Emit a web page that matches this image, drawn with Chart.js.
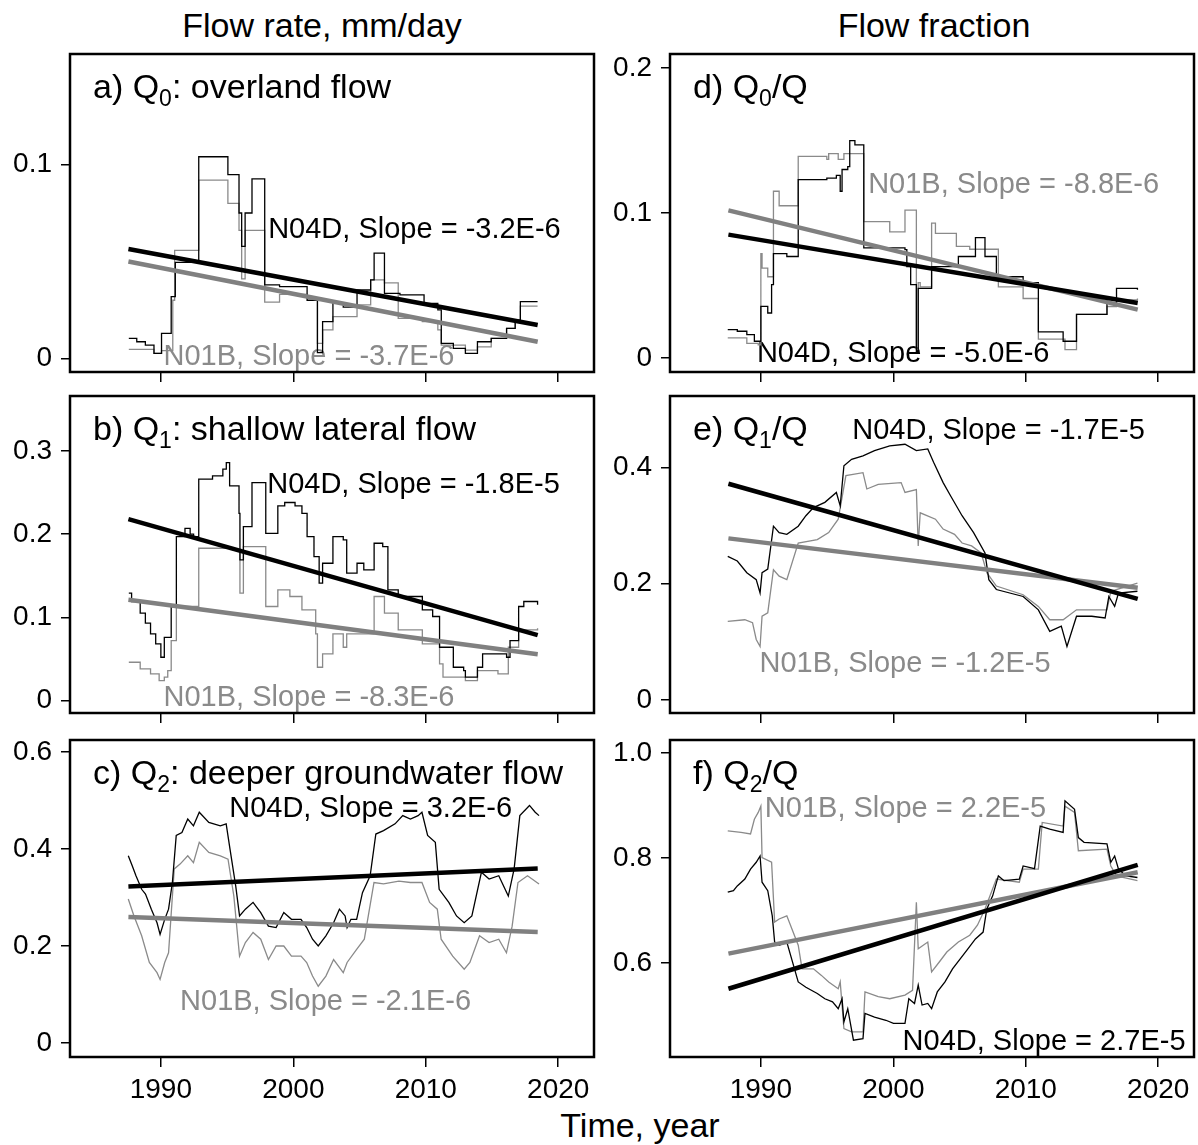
<!DOCTYPE html>
<html>
<head>
<meta charset="utf-8">
<script src="https://cdn.jsdelivr.net/npm/chart.js@4.4.1/dist/chart.umd.min.js"></script>
<style>
body { margin: 0; background: #fff; width: 1198px; height: 1145px; position: relative; overflow: hidden;
       font-family: 'Liberation Sans', Arial, sans-serif; }
canvas { position: absolute; }
.hdr { position: absolute; width: 600px; font-size: 34px; line-height: 0; text-align: center; white-space: nowrap; color: #000; }
</style>
</head>
<body>
<div class="hdr" style="left:22px; top:25px">Flow rate, mm/day</div>
<div class="hdr" style="left:634px; top:25px">Flow fraction</div>
<div class="hdr" style="left:340px; top:1125px">Time, year</div>
<script>
// ---- data: [year, value] ----
// Q0 overland flow, mm/day
const q0N04D = [[1987.58,0.0103],[1988.18,0.0086],[1988.83,0.0069],[1989.48,0.0026],[1990.05,0.0129],[1990.78,0.0319],
  [1991.09,0.0495],[1992.86,0.1040],[1995.06,0.0948],[1995.90,0.0750],[1996.10,0.0578],[1996.36,0.0750],[1996.88,0.0926],
  [1997.84,0.0379],[1998.96,0.0370],[2001.04,0.0300],[2001.82,0.0030],[2002.21,0.0190],[2002.99,0.0284],[2003.77,0.0265],
  [2004.81,0.0353],[2005.84,0.0405],[2006.10,0.0543],[2006.88,0.0336],[2008.05,0.0328],[2009.87,0.0284],[2010.91,0.0250],
  [2011.17,0.0078],[2012.08,0.0052],[2012.99,0.0026],[2013.90,0.0086],[2014.94,0.0103],[2016.10,0.0155],[2016.75,0.0198],
  [2017.14,0.0293],[2018.44,0.0293]];
const q0N01B = [[1987.58,0.0047],[1989.48,0.0026],[1990.05,0.0040],[1990.90,0.0300],[1991.04,0.0557],[1992.86,0.0920],
  [1995.06,0.0800],[1995.90,0.0660],[1996.10,0.0410],[1996.36,0.0660],[1997.84,0.0290],[1998.96,0.0330],[2001.04,0.0310],
  [2001.82,0.0078],[2002.21,0.0147],[2002.99,0.0216],[2004.81,0.0276],[2005.84,0.0405],[2006.88,0.0390],[2007.92,0.0207],
  [2009.74,0.0190],[2010.91,0.0147],[2011.17,0.0069],[2012.99,0.0043],[2013.90,0.0060],[2014.94,0.0103],[2016.10,0.0155],
  [2016.75,0.0190],[2017.14,0.0270],[2018.44,0.0270]];

// Q1 shallow lateral flow, mm/day
const q1N04D = [[1987.58,0.129],[1987.79,0.119],[1988.44,0.105],[1988.83,0.093],[1989.22,0.080],[1989.61,0.068],
  [1990.00,0.052],[1990.26,0.076],[1990.78,0.113],[1991.17,0.197],[1991.82,0.207],[1992.21,0.200],[1992.47,0.197],
  [1992.86,0.266],[1993.90,0.270],[1994.68,0.278],[1994.94,0.286],[1995.19,0.258],[1995.90,0.225],[1995.97,0.169],
  [1996.23,0.209],[1996.88,0.262],[1997.92,0.201],[1998.83,0.234],[1999.35,0.238],[2000.13,0.234],[2000.65,0.225],
  [2001.04,0.197],[2001.56,0.173],[2001.95,0.141],[2002.21,0.165],[2002.99,0.197],[2003.77,0.193],[2004.03,0.153],
  [2004.81,0.165],[2005.32,0.157],[2006.10,0.189],[2006.75,0.185],[2007.14,0.133],[2007.92,0.125],[2009.74,0.109],
  [2010.52,0.101],[2011.04,0.064],[2012.08,0.040],[2012.86,0.036],[2012.99,0.028],[2013.90,0.040],[2014.29,0.056],
  [2016.10,0.052],[2016.36,0.072],[2017.01,0.113],[2017.40,0.119],[2018.44,0.115]];
const q1N01B = [[1987.58,0.046],[1988.44,0.038],[1989.22,0.032],[1989.87,0.024],[1990.26,0.028],[1990.52,0.036],
  [1990.78,0.072],[1991.17,0.113],[1992.86,0.183],[1995.45,0.181],[1995.97,0.129],[1996.23,0.185],[1997.92,0.113],
  [1998.83,0.133],[1999.74,0.125],[2000.65,0.109],[2001.69,0.080],[2001.82,0.040],[2002.21,0.056],[2002.99,0.080],
  [2003.77,0.064],[2004.03,0.080],[2006.10,0.125],[2006.88,0.105],[2007.92,0.085],[2009.74,0.068],[2011.04,0.044],
  [2011.30,0.028],[2012.99,0.024],[2013.90,0.036],[2015.45,0.032],[2016.23,0.064],[2017.01,0.085],[2018.44,0.087]];

// Q2 deeper groundwater flow, mm/day
const q2N04D = [[1987.54,0.386],[1987.83,0.366],[1988.12,0.345],[1988.55,0.317],[1988.84,0.307],[1989.28,0.276],
  [1989.71,0.248],[1989.94,0.224],[1990.29,0.255],[1990.58,0.276],[1990.87,0.331],[1991.16,0.428],[1991.59,0.434],
  [1992.03,0.462],[1992.46,0.448],[1992.90,0.476],[1993.62,0.455],[1994.49,0.448],[1994.93,0.452],[1995.22,0.400],
  [1995.65,0.324],[1995.94,0.262],[1996.38,0.276],[1996.96,0.290],[1997.54,0.269],[1998.12,0.241],[1998.70,0.238],
  [1999.28,0.269],[1999.86,0.255],[2000.58,0.255],[2001.01,0.238],[2001.45,0.214],[2001.88,0.200],[2002.46,0.221],
  [2003.04,0.248],[2003.48,0.276],[2003.91,0.262],[2004.06,0.238],[2004.35,0.255],[2004.78,0.255],[2005.22,0.310],
  [2005.80,0.345],[2006.23,0.431],[2006.81,0.438],[2007.68,0.452],[2008.26,0.469],[2008.84,0.462],[2009.42,0.469],
  [2009.71,0.476],[2010.14,0.428],[2010.72,0.414],[2011.01,0.317],[2011.74,0.290],[2012.32,0.262],[2012.90,0.248],
  [2013.48,0.262],[2014.20,0.352],[2014.78,0.338],[2015.51,0.345],[2016.23,0.303],[2016.67,0.359],[2017.10,0.469],
  [2017.83,0.490],[2018.26,0.476],[2018.55,0.469]];
const q2N01B = [[1987.54,0.297],[1987.97,0.262],[1988.55,0.221],[1989.13,0.166],[1989.71,0.145],[1989.94,0.131],
  [1990.29,0.166],[1990.58,0.186],[1991.01,0.359],[1991.45,0.369],[1992.03,0.386],[1992.46,0.372],[1992.90,0.414],
  [1993.62,0.393],[1994.49,0.386],[1995.07,0.379],[1995.51,0.303],[1995.94,0.179],[1996.38,0.207],[1996.96,0.228],
  [1997.54,0.214],[1998.12,0.172],[1998.70,0.200],[1999.28,0.200],[1999.86,0.179],[2000.58,0.179],[2001.01,0.166],
  [2001.45,0.138],[2001.88,0.117],[2002.46,0.138],[2003.04,0.172],[2003.77,0.145],[2004.06,0.166],[2004.78,0.193],
  [2005.36,0.214],[2006.09,0.331],[2006.81,0.328],[2007.97,0.334],[2008.84,0.331],[2009.71,0.331],[2010.29,0.290],
  [2010.87,0.276],[2011.16,0.214],[2012.03,0.179],[2012.90,0.152],[2013.33,0.166],[2014.06,0.221],[2014.78,0.207],
  [2015.51,0.214],[2016.09,0.186],[2016.52,0.241],[2016.96,0.331],[2017.68,0.345],[2018.55,0.328]];

// Q0/Q flow fraction
const f0N04D = [[1987.50,0.0195],[1988.22,0.0184],[1988.94,0.0161],[1989.51,0.0115],[1990.00,0.0356],[1990.52,0.0310],
  [1990.81,0.0506],[1990.95,0.0720],[1991.96,0.0700],[1992.82,0.1230],[1994.98,0.1240],[1995.70,0.1260],[1995.99,0.1150],
  [1996.13,0.1300],[1996.56,0.1320],[1996.71,0.1500],[1997.10,0.1470],[1997.77,0.0760],[2000.88,0.0747],[2001.02,0.0630],
  [2001.31,0.0506],[2001.74,0.0046],[2001.88,0.0480],[2002.89,0.0630],[2004.91,0.0700],[2006.20,0.0830],[2006.92,0.0700],
  [2007.78,0.0560],[2009.22,0.0560],[2009.80,0.0520],[2010.95,0.0180],[2012.82,0.0115],[2013.83,0.0300],[2016.13,0.0380],
  [2016.85,0.0480],[2018.43,0.0470]];
const f0N01B = [[1987.50,0.0138],[1988.94,0.0100],[1989.80,0.0090],[1990.00,0.0720],[1990.09,0.0620],[1990.52,0.0560],
  [1990.95,0.1150],[1991.38,0.1050],[1992.82,0.1390],[1994.98,0.1370],[1995.12,0.1410],[1995.84,0.1370],[1996.27,0.1410],
  [1997.77,0.0940],[1999.73,0.0870],[2000.88,0.1020],[2001.74,0.0060],[2001.88,0.0520],[2002.03,0.0490],[2002.89,0.0930],
  [2003.18,0.0860],[2004.76,0.0770],[2005.77,0.0750],[2007.93,0.0490],[2009.80,0.0410],[2010.95,0.0130],[2012.96,0.0057],
  [2013.83,0.0300],[2016.13,0.0355],[2016.85,0.0400],[2018.43,0.0410]];

// Q1/Q flow fraction
const f1N04D = [[1987.50,0.247],[1988.22,0.239],[1988.94,0.219],[1989.65,0.207],[1989.94,0.184],[1990.09,0.219],
  [1990.52,0.225],[1990.95,0.299],[1991.38,0.288],[1991.96,0.285],[1992.82,0.299],[1993.40,0.317],[1993.97,0.331],
  [1994.83,0.340],[1995.70,0.357],[1995.99,0.334],[1996.27,0.403],[1996.85,0.414],[1997.71,0.420],[1998.58,0.429],
  [1999.73,0.437],[2000.88,0.440],[2001.74,0.429],[2002.60,0.432],[2003.04,0.409],[2003.76,0.374],[2004.33,0.351],
  [2005.19,0.317],[2006.06,0.288],[2006.92,0.253],[2007.21,0.207],[2007.78,0.190],[2009.80,0.178],[2010.95,0.155],
  [2011.81,0.118],[2012.68,0.127],[2013.11,0.092],[2013.83,0.144],[2014.98,0.144],[2015.99,0.141],[2016.27,0.178],
  [2016.71,0.161],[2017.00,0.184],[2018.43,0.187]];
const f1N01B = [[1987.50,0.135],[1988.79,0.138],[1989.37,0.133],[1989.65,0.104],[1989.94,0.092],[1990.09,0.144],
  [1990.52,0.150],[1990.95,0.224],[1991.38,0.213],[1991.96,0.207],[1992.82,0.270],[1994.26,0.276],[1995.12,0.288],
  [1995.84,0.311],[1996.42,0.386],[1997.71,0.391],[1998.00,0.363],[1998.86,0.371],[2000.59,0.374],[2000.88,0.357],
  [2001.74,0.362],[2001.88,0.265],[2002.03,0.322],[2003.18,0.311],[2003.76,0.294],[2004.62,0.285],[2005.19,0.270],
  [2005.91,0.265],[2006.63,0.253],[2007.06,0.219],[2007.78,0.196],[2009.80,0.181],[2010.95,0.161],[2011.81,0.138],
  [2012.82,0.138],[2013.83,0.155],[2016.13,0.155],[2016.42,0.187],[2018.43,0.201]];

// Q2/Q flow fraction
const f2N04D = [[1987.50,0.735],[1987.93,0.738],[1988.22,0.747],[1988.79,0.760],[1989.22,0.779],[1989.65,0.792],
  [1989.94,0.804],[1990.09,0.754],[1990.52,0.738],[1990.86,0.690],[1991.04,0.640],[1991.38,0.634],[1991.96,0.640],
  [1992.82,0.564],[1993.40,0.554],[1994.26,0.542],[1994.83,0.532],[1995.41,0.526],[1995.84,0.513],[1996.13,0.532],
  [1996.27,0.488],[1996.56,0.513],[1996.99,0.453],[1997.71,0.456],[1997.86,0.504],[1998.58,0.497],[1999.44,0.491],
  [2000.01,0.485],[2000.88,0.485],[2001.17,0.532],[2001.60,0.523],[2001.88,0.558],[2002.17,0.520],[2002.60,0.523],
  [2002.89,0.513],[2003.32,0.545],[2003.90,0.564],[2004.47,0.589],[2005.05,0.608],[2005.63,0.627],[2006.20,0.646],
  [2006.78,0.659],[2007.06,0.703],[2007.50,0.728],[2007.93,0.766],[2008.36,0.757],[2009.51,0.760],[2009.80,0.785],
  [2010.66,0.780],[2011.09,0.861],[2011.81,0.855],[2012.82,0.849],[2012.96,0.909],[2013.68,0.893],[2013.97,0.839],
  [2014.40,0.830],[2016.13,0.827],[2016.42,0.792],[2016.71,0.804],[2017.00,0.779],[2017.57,0.766],[2018.43,0.763]];
const f2N01B = [[1987.50,0.852],[1988.50,0.849],[1989.22,0.846],[1989.51,0.874],[1989.80,0.887],[1990.00,0.899],
  [1990.09,0.801],[1990.81,0.792],[1991.04,0.678],[1991.38,0.684],[1991.96,0.690],[1992.82,0.634],[1993.11,0.589],
  [1993.97,0.589],[1994.55,0.577],[1995.12,0.564],[1995.84,0.551],[1995.99,0.564],[1996.27,0.475],[1996.85,0.469],
  [1997.71,0.469],[1997.86,0.545],[1998.86,0.536],[1999.73,0.532],[2000.88,0.539],[2001.45,0.548],[2001.74,0.716],
  [2001.88,0.627],[2002.60,0.640],[2002.89,0.583],[2003.47,0.602],[2004.04,0.621],[2004.91,0.640],[2005.77,0.653],
  [2006.35,0.672],[2006.92,0.703],[2007.78,0.760],[2009.51,0.754],[2009.80,0.779],[2010.95,0.779],[2011.24,0.868],
  [2012.82,0.861],[2012.96,0.899],[2013.68,0.887],[2013.97,0.814],[2016.13,0.817],[2016.42,0.785],[2016.85,0.766],
  [2018.43,0.757]];

// linear trend lines, start and end of the record
const trendYears = [1987.55, 2018.45];
const q0TrendN04D = [0.0564, 0.0172], q0TrendN01B = [0.0500, 0.0086];
const q1TrendN04D = [0.218, 0.0785],  q1TrendN01B = [0.121, 0.0556];
const q2TrendN04D = [0.323, 0.360],   q2TrendN01B = [0.260, 0.229];
const f0TrendN04D = [0.0851, 0.0379], f0TrendN01B = [0.1018, 0.0333];
const f1TrendN04D = [0.372, 0.174],   f1TrendN01B = [0.278, 0.193];
const f2TrendN04D = [0.551, 0.787],   f2TrendN01B = [0.618, 0.773];

const xTicks = [1990, 2000, 2010, 2020];

// ---- layout / style ----
const FONT = "'Liberation Sans', Arial, sans-serif";
const GRAY = '#8a8a8a';
const X_MIN = 1983.14, X_MAX = 2022.7;
const colLeft = [0, 600], colWidth = [600, 598], padRight = [6, 4];
const rowTop = [0, 378, 722], padTop = [54, 18, 18], boxBottom = [372, 713, 1057];

const panels = [
  { col: 0, row: 0, black: q0N04D, gray: q0N01B, tb: q0TrendN04D, tg: q0TrendN01B, stepped: true,
    yMin: -0.007, yMax: 0.157, yStep: 0.1, title: ['a) Q', '0', ': overland flow'],
    notes: [{ text: 'N04D, Slope = -3.2E-6', x: 1998.1, y: 0.0622, color: '#000' },
            { text: 'N01B, Slope = -3.7E-6', x: 1990.2, y: -0.0036, color: GRAY }] },
  { col: 0, row: 1, black: q1N04D, gray: q1N01B, tb: q1TrendN04D, tg: q1TrendN01B, stepped: true,
    yMin: -0.015, yMax: 0.366, yStep: 0.1, title: ['b) Q', '1', ': shallow lateral flow'],
    notes: [{ text: 'N04D, Slope = -1.8E-5', x: 1998.03, y: 0.25, color: '#000' },
            { text: 'N01B, Slope = -8.3E-6', x: 1990.2, y: -0.006, color: GRAY }] },
  { col: 0, row: 2, black: q2N04D, gray: q2N01B, tb: q2TrendN04D, tg: q2TrendN01B, stepped: false,
    yMin: -0.029, yMax: 0.625, yStep: 0.2, title: ['c) Q', '2', ': deeper groundwater flow'],
    notes: [{ text: 'N04D, Slope = 3.2E-6', x: 1995.16, y: 0.466, color: '#000' },
            { text: 'N01B, Slope = -2.1E-6', x: 1991.45, y: 0.068, color: GRAY }] },
  { col: 1, row: 0, black: f0N04D, gray: f0N01B, tb: f0TrendN04D, tg: f0TrendN01B, stepped: true,
    yMin: -0.0097, yMax: 0.2097, yStep: 0.1, title: ['d) Q', '0', '/Q'],
    notes: [{ text: 'N01B, Slope = -8.8E-6', x: 1998.1, y: 0.1138, color: GRAY },
            { text: 'N04D, Slope = -5.0E-6', x: 1989.7, y: -0.0028, color: '#000' }] },
  { col: 1, row: 1, black: f1N04D, gray: f1N01B, tb: f1TrendN04D, tg: f1TrendN01B, stepped: false,
    yMin: -0.0225, yMax: 0.523, yStep: 0.2, title: ['e) Q', '1', '/Q'],
    notes: [{ text: 'N04D, Slope = -1.7E-5', x: 1996.9, y: 0.449, color: '#000' },
            { text: 'N01B, Slope = -1.2E-5', x: 1989.9, y: 0.048, color: GRAY }] },
  { col: 1, row: 2, black: f2N04D, gray: f2N01B, tb: f2TrendN04D, tg: f2TrendN01B, stepped: false,
    yMin: 0.421, yMax: 1.025, yStep: 0.2, title: ['f) Q', '2', '/Q'],
    notes: [{ text: 'N01B, Slope = 2.2E-5', x: 1990.3, y: 0.878, color: GRAY },
            { text: 'N04D, Slope = 2.7E-5', x: 2022.06, y: 0.434, color: '#000', align: 'right' }] }
];

/**
 * Box around the plot area, panel title with subscript, slope labels.
 */
const panelDecor = {
  id: 'panelDecor',
  beforeDatasetsDraw(chart, args, opts) {
    const { ctx, chartArea: a } = chart;
    const xs = chart.scales.x, ys = chart.scales.y;
    ctx.save();
    ctx.textBaseline = 'alphabetic';
    ctx.textAlign = 'left';
    ctx.fillStyle = '#000';
    let tx = a.left + 23;
    const ty = a.top + 44;
    ctx.font = '34px ' + FONT;
    ctx.fillText(opts.title[0], tx, ty);
    tx += ctx.measureText(opts.title[0]).width;
    ctx.font = '23px ' + FONT;
    ctx.fillText(opts.title[1], tx, ty + 8);
    tx += ctx.measureText(opts.title[1]).width;
    ctx.font = '34px ' + FONT;
    ctx.fillText(opts.title[2], tx, ty);

    ctx.font = '29px ' + FONT;
    opts.notes.forEach(n => {
      ctx.fillStyle = n.color;
      ctx.textAlign = n.align || 'left';
      ctx.fillText(n.text, xs.getPixelForValue(n.x), ys.getPixelForValue(n.y));
    });
    ctx.restore();
  },
  afterDatasetsDraw(chart) {
    const { ctx, chartArea: a } = chart;
    ctx.save();
    ctx.strokeStyle = '#000';
    ctx.lineWidth = 2.5;
    ctx.strokeRect(a.left, a.top, a.right - a.left, a.bottom - a.top);
    ctx.restore();
  }
};

function noPad(s) {
  s.paddingTop = 0; s.paddingBottom = 0; s.paddingLeft = 0; s.paddingRight = 0;
}

function drawPanel(p) {
  const bottomRow = p.row === 2;
  const xH = bottomRow ? 52 : 14;
  const canvas = document.createElement('canvas');
  canvas.width = colWidth[p.col];
  canvas.height = boxBottom[p.row] - rowTop[p.row] + xH + 4;
  canvas.style.left = colLeft[p.col] + 'px';
  canvas.style.top = rowTop[p.row] + 'px';
  document.body.appendChild(canvas);

  const pts = arr => arr.map(d => ({ x: d[0], y: d[1] }));
  const trend = v => trendYears.map((yr, i) => ({ x: yr, y: v[i] }));

  new Chart(canvas.getContext('2d'), {
    type: 'line',
    data: {
      datasets: [
        { data: trend(p.tb), borderColor: '#000', borderWidth: 4.5, order: 0 },
        { data: trend(p.tg), borderColor: '#808080', borderWidth: 4.5, order: 1 },
        { data: pts(p.black), borderColor: '#000', borderWidth: 1.3, stepped: p.stepped, order: 2 },
        { data: pts(p.gray), borderColor: GRAY, borderWidth: 1.3, stepped: p.stepped, order: 3 }
      ]
    },
    options: {
      responsive: false,
      animation: false,
      devicePixelRatio: 1,
      layout: { padding: { left: 0, right: padRight[p.col], top: padTop[p.row], bottom: 4 } },
      elements: { point: { radius: 0 }, line: { tension: 0, borderCapStyle: 'butt' } },
      plugins: {
        legend: { display: false },
        tooltip: { enabled: false },
        panelDecor: { title: p.title, notes: p.notes }
      },
      scales: {
        x: {
          type: 'linear', min: X_MIN, max: X_MAX,
          afterFit: s => { s.height = xH; noPad(s); },
          afterBuildTicks: s => { s.ticks = xTicks.map(v => ({ value: v })); },
          border: { display: false },
          grid: { drawOnChartArea: false, drawTicks: true, tickLength: 10, color: '#000', lineWidth: 1.5 },
          ticks: { display: bottomRow, color: '#000', font: { size: 28, family: FONT }, padding: 6,
                   maxRotation: 0, autoSkip: false, callback: v => String(v) }
        },
        y: {
          min: p.yMin, max: p.yMax,
          afterFit: s => { s.width = 70; noPad(s); },
          border: { display: false },
          grid: { drawOnChartArea: false, drawTicks: true, tickLength: 9, color: '#000', lineWidth: 1.5 },
          ticks: { stepSize: p.yStep, includeBounds: false, color: '#000', font: { size: 28, family: FONT }, padding: 9,
                   callback: v => (Math.abs(v) < 1e-9 ? '0' : v.toFixed(1)) }
        }
      }
    },
    plugins: [panelDecor]
  });
}

panels.forEach(drawPanel);
</script>
</body>
</html>
